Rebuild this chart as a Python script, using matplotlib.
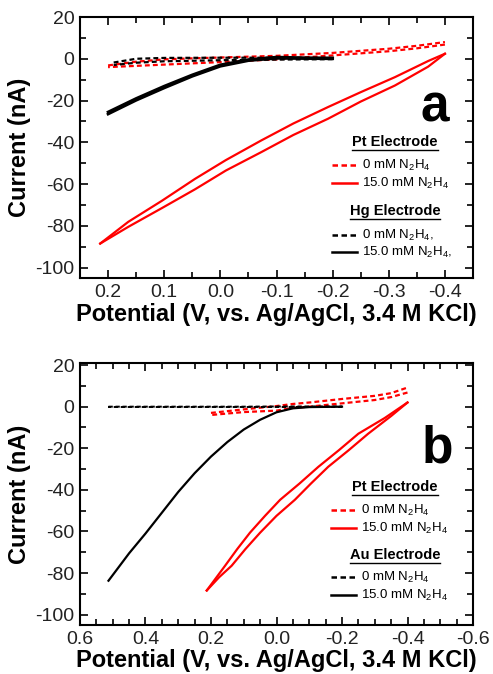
import matplotlib
matplotlib.use("Agg")
import matplotlib.pyplot as plt
from matplotlib.lines import Line2D
from matplotlib.ticker import MultipleLocator, FormatStrFormatter

# ---- panel a: Pt vs Hg ----
pt0_a_fwd_v = [0.20, 0.15, 0.10, 0.05, 0.0, -0.10, -0.20, -0.30, -0.35, -0.40]
pt0_a_fwd_i = [-3.2, -1.4, -0.3, 0.2, 0.6, 1.4, 2.8, 4.8, 6.2, 8.0]
pt0_a_rev_v = [-0.40, -0.35, -0.30, -0.20, -0.10, 0.0, 0.10, 0.15, 0.20]
pt0_a_rev_i = [6.8, 5.0, 3.6, 1.6, -0.3, -1.6, -2.8, -3.4, -4.0]

pt15_a_up_v = [-0.40, -0.37, -0.311, -0.25, -0.192, -0.13, -0.073, -0.01, 0.045, 0.104, 0.164, 0.214]
pt15_a_up_i = [2.4, -1.1, -8.8, -16.0, -23.1, -31.0, -39.1, -48.5, -57.5, -68.0, -78.1, -88.5]
pt15_a_lo_v = [0.214, 0.164, 0.104, 0.045, -0.01, -0.073, -0.13, -0.192, -0.25, -0.311, -0.37, -0.40]
pt15_a_lo_i = [-88.5, -80.5, -71.5, -62.5, -53.5, -44.7, -36.5, -28.7, -20.5, -12.8, -3.8, 2.4]

hg0_a_fwd_v = [0.19, 0.15, 0.10, 0.0, -0.10, -0.20]
hg0_a_fwd_i = [-1.8, 0.0, 0.4, 0.5, 0.5, 0.3]
hg0_a_rev_v = [-0.20, -0.10, 0.0, 0.10, 0.15, 0.19]
hg0_a_rev_i = [-0.2, -0.4, -0.7, -1.2, -1.9, -3.0]

hg15_a_fwd_v = [0.20, 0.15, 0.10, 0.05, 0.0, -0.05, -0.10, -0.15, -0.20]
hg15_a_fwd_i = [-25.5, -19.0, -13.1, -7.7, -2.9, -0.4, 0.8, 0.5, 0.4]
hg15_a_rev_v = [-0.20, -0.15, -0.10, -0.05, 0.0, 0.05, 0.10, 0.15, 0.20]
hg15_a_rev_i = [0.0, 0.1, 0.2, -0.9, -3.6, -8.4, -14.0, -19.9, -26.5]

# ---- panel b: Pt vs Au ----
pt0_b_fwd_v = [0.20, 0.10, 0.0, -0.05, -0.10, -0.20, -0.30, -0.35, -0.40]
pt0_b_fwd_i = [-3.0, -1.3, 0.3, 1.3, 2.0, 3.7, 5.2, 6.5, 9.2]
pt0_b_rev_v = [-0.40, -0.35, -0.30, -0.20, -0.10, -0.05, 0.0, 0.10, 0.20]
pt0_b_rev_i = [6.8, 4.6, 3.2, 1.6, 0.0, -0.6, -1.9, -2.6, -4.0]

pt15_b_up_v = [-0.40, -0.33, -0.25, -0.19, -0.128, -0.07, -0.011, 0.035, 0.081, 0.12, 0.157, 0.213]
pt15_b_up_i = [2.0, -5.5, -13.0, -21.0, -28.9, -37.0, -44.8, -52.5, -60.6, -68.5, -76.5, -88.4]
pt15_b_lo_v = [0.213, 0.175, 0.137, 0.095, 0.05, 0.0, -0.056, -0.105, -0.158, -0.22, -0.28, -0.35, -0.40]
pt15_b_lo_i = [-88.4, -82.0, -76.5, -68.5, -60.6, -52.5, -44.8, -37.0, -28.9, -21.0, -13.0, -4.5, 2.0]

au0_b_fwd_v = [0.513, 0.30, 0.10, 0.0, -0.20]
au0_b_fwd_i = [0.0, 0.0, 0.0, 0.1, 0.1]
au0_b_rev_v = [-0.20, 0.0, 0.10, 0.30, 0.513]
au0_b_rev_i = [0.0, 0.0, 0.0, 0.0, 0.0]

au15_b_v = [0.513, 0.45, 0.40, 0.35, 0.30, 0.25, 0.20, 0.15, 0.10, 0.05, 0.0, -0.05, -0.10, -0.20]
au15_b_i = [-83.7, -70.5, -61.0, -51.0, -41.0, -32.0, -24.0, -17.0, -11.0, -6.3, -2.7, -0.8, -0.2, 0.0]

plt.rcParams["font.family"] = ["Liberation Sans", "DejaVu Sans"]
plt.rcParams["mathtext.fontset"] = "custom"
plt.rcParams["mathtext.rm"] = "Liberation Sans"
plt.rcParams["mathtext.it"] = "Liberation Sans:italic"
plt.rcParams["mathtext.bf"] = "Liberation Sans:bold"
plt.rcParams["axes.unicode_minus"] = False

W, H = 493, 674
fig = plt.figure(figsize=(W / 100, H / 100), dpi=100)

RED = "#ff0000"
DASH = (0, (2.2, 1.4))


def px_axes(left, top, right, bottom):
    return fig.add_axes([left / W, 1 - bottom / H, (right - left) / W, (bottom - top) / H])


def style(ax, xlim, ylim, xmaj, xmin):
    ax.set_xlim(*xlim)
    ax.set_ylim(*ylim)
    ax.xaxis.set_major_locator(MultipleLocator(xmaj))
    ax.xaxis.set_minor_locator(MultipleLocator(xmin))
    ax.yaxis.set_major_locator(MultipleLocator(20))
    ax.yaxis.set_minor_locator(MultipleLocator(10))
    ax.xaxis.set_major_formatter(FormatStrFormatter("%.1f"))
    ax.yaxis.set_major_formatter(FormatStrFormatter("%d"))
    ax.tick_params(which="both", direction="in", top=True, right=True, width=1.2)
    ax.tick_params(which="major", length=6, labelsize=14, pad=4, labelcolor="#222222")
    ax.tick_params(which="minor", length=4)
    for s in ax.spines.values():
        s.set_linewidth(1.5)
    ax.set_xlabel("Potential (V, vs. Ag/AgCl, 3.4 M KCl)", fontsize=17, fontweight="bold")
    ax.set_ylabel("Current (nA)", fontsize=17, fontweight="bold")


def legend_block(x0, ys, head1, head2, labels1, labels2):
    # ys: heading1, entry, entry, heading2, entry, entry (pixel y centres)
    heads = []
    for txt, y in ((head1, ys[0]), (head2, ys[3])):
        t = fig.text(395 / W, 1 - y / H, txt, ha="center", va="center", fontsize=10.5, fontweight="bold")
        heads.append(t)
    entries = [(ys[1], RED, DASH, labels1[0]), (ys[2], RED, "-", labels1[1]),
               (ys[4], "black", DASH, labels2[0]), (ys[5], "black", "-", labels2[1])]
    for y, c, ls, lab in entries:
        fig.add_artist(Line2D([x0 / W, (x0 + 25) / W], [1 - y / H, 1 - y / H], color=c, ls=ls, lw=1.8))
        fig.text((x0 + 30) / W, 1 - y / H, lab, ha="left", va="center", fontsize=9.5)
    return heads


N2H4 = "N$_2$H$_4$"

# panel a
ax1 = px_axes(80, 17, 473, 278)
ax1.plot(pt0_a_fwd_v, pt0_a_fwd_i, color=RED, ls=DASH, lw=1.6)
ax1.plot(pt0_a_rev_v, pt0_a_rev_i, color=RED, ls=DASH, lw=1.6)
ax1.plot(pt15_a_up_v, pt15_a_up_i, color=RED, lw=1.6)
ax1.plot(pt15_a_lo_v, pt15_a_lo_i, color=RED, lw=1.6)
ax1.plot(hg0_a_fwd_v, hg0_a_fwd_i, color="black", ls=DASH, lw=1.6)
ax1.plot(hg0_a_rev_v, hg0_a_rev_i, color="black", ls=DASH, lw=1.6)
ax1.plot(hg15_a_fwd_v, hg15_a_fwd_i, color="black", lw=2.0)
ax1.plot(hg15_a_rev_v, hg15_a_rev_i, color="black", lw=2.0)
style(ax1, (0.25, -0.45), (-105, 20), 0.1, 0.05)
ax1.yaxis.set_label_coords(-0.125, 0.5)
ax1.xaxis.set_label_coords(0.5, -0.095)
fig.text(435 / W, 1 - 108 / H, "a", ha="center", va="center", fontsize=37, fontweight="bold")

# panel b
ax2 = px_axes(80, 363, 473, 625)
ax2.plot(pt0_b_fwd_v, pt0_b_fwd_i, color=RED, ls=DASH, lw=1.6)
ax2.plot(pt0_b_rev_v, pt0_b_rev_i, color=RED, ls=DASH, lw=1.6)
ax2.plot(pt15_b_up_v, pt15_b_up_i, color=RED, lw=1.6)
ax2.plot(pt15_b_lo_v, pt15_b_lo_i, color=RED, lw=1.6)
ax2.plot(au0_b_fwd_v, au0_b_fwd_i, color="black", ls=DASH, lw=1.4)
ax2.plot(au0_b_rev_v, au0_b_rev_i, color="black", ls=DASH, lw=1.4)
ax2.plot(au15_b_v, au15_b_i, color="black", lw=1.6)
style(ax2, (0.6, -0.6), (-105, 21), 0.2, 0.05)
ax2.yaxis.set_label_coords(-0.125, 0.5)
ax2.xaxis.set_label_coords(0.5, -0.09)
fig.text(437 / W, 1 - 449 / H, "b", ha="center", va="center", fontsize=37, fontweight="bold")

heads = legend_block(332, [142, 165, 183, 211, 235, 252], "Pt Electrode", "Hg Electrode",
                     ["0 mM " + N2H4, "15.0 mM " + N2H4], ["0 mM " + N2H4 + ",", "15.0 mM " + N2H4 + ","])
heads += legend_block(331, [487, 510, 528, 555, 577, 595], "Pt Electrode", "Au Electrode",
                      ["0 mM " + N2H4, "15.0 mM " + N2H4], ["0 mM " + N2H4, "15.0 mM " + N2H4])

# underline the electrode headings
fig.canvas.draw()
r = fig.canvas.get_renderer()
for t in heads:
    bb = t.get_window_extent(r).transformed(fig.transFigure.inverted())
    fig.add_artist(Line2D([bb.x0, bb.x1], [bb.y0 - 0.001, bb.y0 - 0.001], color="black", lw=1.0))

fig.savefig("out.png", dpi=100)
